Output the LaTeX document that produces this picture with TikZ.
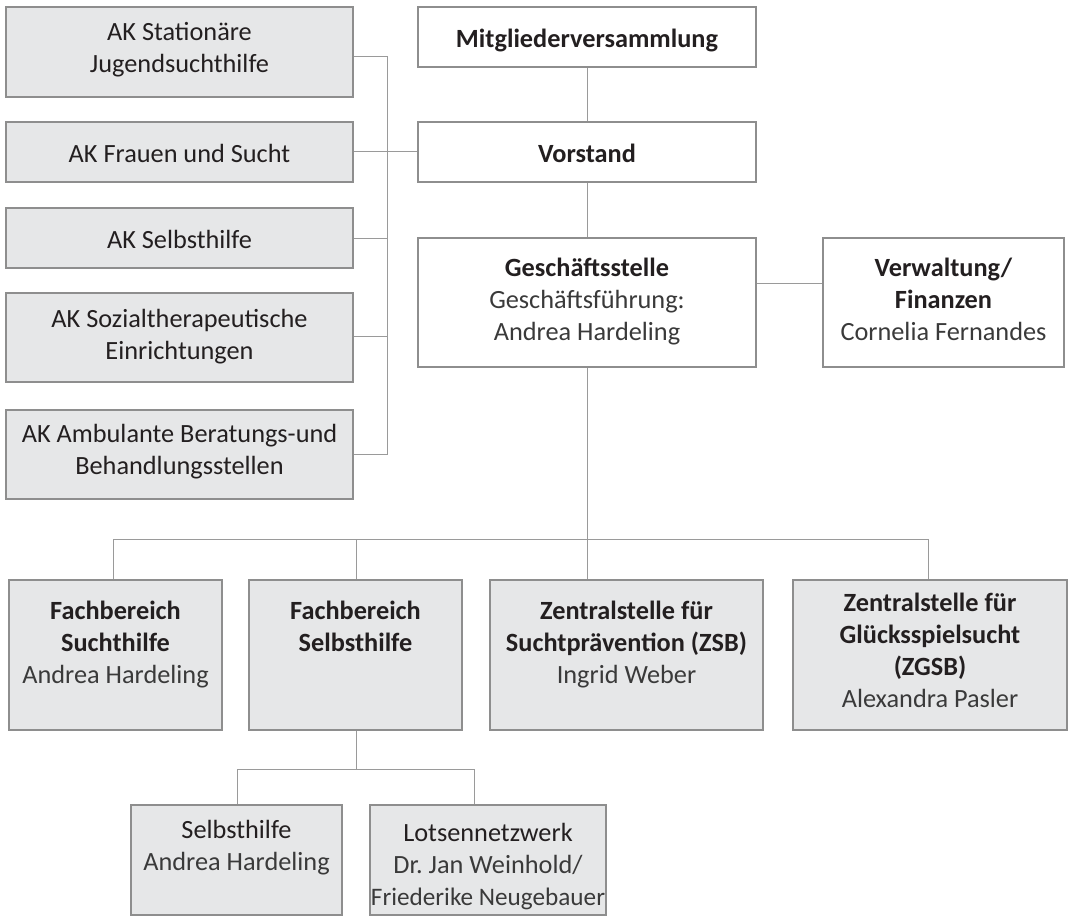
\documentclass[tikz,border=0pt]{standalone}
\usepackage{fontspec}
\setmainfont{Carlito}
\frenchspacing
\definecolor{boxfill}{HTML}{E6E7E8}
\definecolor{boxline}{HTML}{8E8E8E}
\definecolor{conline}{HTML}{9A9A9A}
\definecolor{txtcol}{HTML}{231F20}
\definecolor{namecol}{HTML}{3A3A3A}
\tikzset{
  gbox/.style={draw=boxline, fill=boxfill, line width=1.1pt, inner sep=0pt, rectangle},
  wbox/.style={draw=boxline, fill=white, line width=1.1pt, inner sep=0pt, rectangle},
  txt/.style={anchor=north, align=center, inner sep=0pt, text=txtcol,
    font=\fontsize{26.3pt}{32pt}\selectfont,
    execute at begin node=\strut, execute at end node=\strut},
  con/.style={draw=conline, line width=1pt},
}
\newcommand{\nm}[1]{{\color{namecol}#1}}
\begin{document}
\begin{tikzpicture}[x=1pt,y=-1pt]
\useasboundingbox (0,0) rectangle (1069,923);

% ---- AK boxes (left column)
\node[gbox, minimum width=347pt, minimum height=90pt] (ak1) at (179.5,52) {};
\node[gbox, minimum width=347pt, minimum height=60pt] (ak2) at (179.5,152) {};
\node[gbox, minimum width=347pt, minimum height=60pt] (ak3) at (179.5,238) {};
\node[gbox, minimum width=347pt, minimum height=89pt] (ak4) at (179.5,337.5) {};
\node[gbox, minimum width=347pt, minimum height=89pt] (ak5) at (179.5,454.5) {};
\node[txt] (ak1t) at (179.5,22.6) {AK Stationäre\\Jugendsuchthilfe};
\node[txt] (ak2t) at (179.5,139.6) {AK Frauen und Sucht};
\node[txt] (ak3t) at (179.5,225.6) {AK Selbsthilfe};
\node[txt] (ak4t) at (179.5,309.3) {AK Sozialtherapeutische\\Einrichtungen};
\node[txt] (ak5t) at (179.5,424.3) {AK Ambulante Beratungs-und\\Behandlungsstellen};

% ---- central column
\node[wbox, minimum width=338pt, minimum height=60pt] (mv) at (587,37) {};
\node[txt] (mvt) at (587,24.6) {\bfseries Mitgliederversammlung};
\node[wbox, minimum width=338pt, minimum height=60pt] (vs) at (587,152) {};
\node[txt] (vst) at (587,139.6) {\bfseries Vorstand};
\node[wbox, minimum width=338pt, minimum height=129pt] (gs) at (587,302.5) {};
\node[txt] (gst) at (587,258) {\textbf{Geschäftsstelle}\\\nm{Geschäftsführung:}\\\nm{Andrea Hardeling}};
\node[wbox, minimum width=241pt, minimum height=129pt] (vw) at (943.5,302.5) {};
\node[txt] (vwt) at (943.5,258) {\textbf{Verwaltung/}\\\textbf{Finanzen}\\\nm{Cornelia Fernandes}};

% ---- Fachbereiche
\node[gbox, minimum width=213pt, minimum height=150pt] (fs) at (115.5,655) {};
\node[txt] (fst) at (115.5,600.6) {\textbf{Fachbereich}\\\textbf{Suchthilfe}\\\nm{Andrea Hardeling}};
\node[gbox, minimum width=213pt, minimum height=150pt] (fb) at (355.5,655) {};
\node[txt] (fbt) at (355.5,600.6) {\textbf{Fachbereich}\\\textbf{Selbsthilfe}};
\node[gbox, minimum width=273pt, minimum height=150pt] (zsb) at (626.5,655) {};
\node[txt] (zsbt) at (626.5,600.6) {\textbf{Zentralstelle für}\\\textbf{Suchtprävention (ZSB)}\\\nm{Ingrid Weber}};
\node[gbox, minimum width=274pt, minimum height=150pt] (zg) at (930,655) {};
\node[txt] (zgt) at (930,592.6) {\textbf{Zentralstelle für}\\\textbf{Glücksspielsucht}\\\textbf{(ZGSB)}\\\nm{Alexandra Pasler}};

% ---- sub row
\node[gbox, minimum width=211pt, minimum height=110pt] (sh) at (236.5,860) {};
\node[txt] (sht) at (236.5,819.6) {Selbsthilfe\\\nm{Andrea Hardeling}};
\node[gbox, minimum width=236pt, minimum height=110pt] (lo) at (488,860) {};
\node[txt] (lot) at (488,822.6) {Lotsennetzwerk\\\nm{Dr.\ Jan Weinhold/}\\\nm{\fontsize{25.2pt}{32pt}\selectfont Friederike Neugebauer}};

% ---- connector coordinates
\coordinate (akb1) at (387,57);
\coordinate (akb2) at (387,152);
\coordinate (akb3) at (387,238);
\coordinate (akb4) at (387,336);
\coordinate (akb5) at (387,454);
\coordinate (gsv) at (587,283);
\coordinate (bus) at (587,539);
\coordinate (busl) at (113,539);
\coordinate (busfb) at (356.7,539);
\coordinate (busr) at (928,539);
\coordinate (sub) at (356.7,769);
\coordinate (subl) at (237.7,769);
\coordinate (subr) at (474.3,769);

% ---- connectors
\draw[con] (ak1.east |- akb1) -- (akb1) -- (akb5) -- (ak5.east |- akb5);
\draw[con] (ak2.east) -- (vs.west);
\draw[con] (ak3.east |- akb3) -- (akb3);
\draw[con] (ak4.east |- akb4) -- (akb4);
\draw[con] (mv.south) -- (vs.north);
\draw[con] (vs.south) -- (gs.north);
\draw[con] (gs.east |- gsv) -- (vw.west |- gsv);
\draw[con] (gs.south) -- (bus);
\draw[con] (fs.north -| busl) -- (busl) -- (busr) -- (zg.north -| busr);
\draw[con] (busfb) -- (fb.north -| busfb);
\draw[con] (bus) -- (zsb.north -| bus);
\draw[con] (fb.south -| sub) -- (sub);
\draw[con] (sh.north -| subl) -- (subl) -- (subr) -- (lo.north -| subr);
\end{tikzpicture}
\end{document}
